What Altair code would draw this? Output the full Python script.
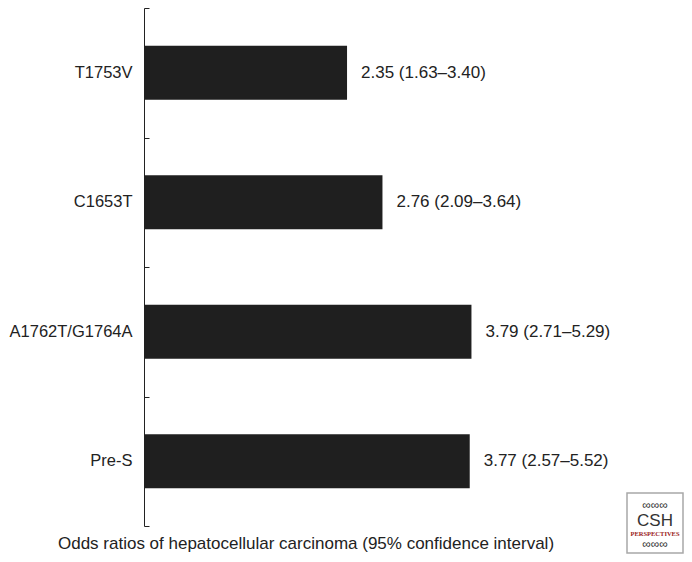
import altair as alt
import pandas as pd

categories = ["T1753V", "C1653T", "A1762T/G1764A", "Pre-S"]
odds = [2.35, 2.76, 3.79, 3.77]
ci_low = [1.63, 2.09, 2.71, 2.57]
ci_high = [3.40, 3.64, 5.29, 5.52]
x_title = "Odds ratios of hepatocellular carcinoma (95% confidence interval)"

df = pd.DataFrame({"cat": categories, "or": odds, "lo": ci_low, "hi": ci_high})
df["label"] = [f"{o:.2f} ({l:.2f}\u2013{h:.2f})" for o, l, h in zip(odds, ci_low, ci_high)]

W, H = 340, 518
FONT = "Liberation Sans"
INK = "#222222"

x_scale = alt.Scale(domain=[0, W / 86.4], nice=False, zero=True)
y_scale = alt.Scale(domain=categories, paddingInner=0, paddingOuter=0)

x_axis = alt.Axis(orient="bottom", labels=False, ticks=False, domain=False, grid=False,
                  title=x_title, titleFontSize=17, titleFont=FONT, titleFontWeight="normal",
                  titleColor=INK, titleX=161.5, titleY=22, titleAlign="center",
                  titleBaseline="alphabetic")

bars = alt.Chart(df).mark_bar(color="#1f1f1f", height=54).encode(
    x=alt.X("or:Q", scale=x_scale, axis=x_axis),
    y=alt.Y("cat:N", scale=y_scale, sort=categories,
            axis=alt.Axis(orient="left", title=None, ticks=False, domain=True, domainColor=INK,
                          domainWidth=1, grid=False, labelFontSize=16.5, labelFont=FONT,
                          labelColor=INK, labelPadding=12, labelLimit=300)),
)

text = alt.Chart(df).mark_text(align="left", baseline="middle", dx=14, fontSize=17,
                               font=FONT, color=INK).encode(
    x=alt.X("or:Q", scale=x_scale, axis=x_axis),
    y=alt.Y("cat:N", scale=y_scale, sort=categories,
            axis=alt.Axis(orient="right", offset=-W, title=None, labels=False, domain=False,
                          ticks=True, tickSize=5, tickColor=INK, tickWidth=1, grid=False,
                          tickBand="extent")),
    text="label:N",
)

one = pd.DataFrame({"k": [1]})
logo_box = alt.Chart(one).mark_rect(fill="white", stroke="#a8a8a8", strokeWidth=1.5).encode(
    x=alt.value(483), x2=alt.value(539), y=alt.value(485), y2=alt.value(545)
)
logo_csh = alt.Chart(one).mark_text(text="CSH", fontSize=17, font="Liberation Sans",
                                    color="#333333", align="center", baseline="middle").encode(
    x=alt.value(511), y=alt.value(513)
)
logo_persp = alt.Chart(one).mark_text(text="PERSPECTIVES", fontSize=6.5, font="Liberation Serif",
                                      fontWeight="bold", color="#9b1b1b", align="center",
                                      baseline="middle").encode(
    x=alt.value(511), y=alt.value(526)
)
logo_top = alt.Chart(one).mark_text(text="\u221e\u221e\u221e", fontSize=12, color="#333333",
                                    align="center", baseline="middle").encode(
    x=alt.value(511), y=alt.value(497)
)
logo_bot = alt.Chart(one).mark_text(text="\u221e\u221e\u221e", fontSize=12, color="#333333",
                                    align="center", baseline="middle").encode(
    x=alt.value(511), y=alt.value(536)
)

chart = alt.layer(bars, text, logo_box, logo_csh, logo_persp, logo_top, logo_bot).resolve_axis(
    y="independent"
).properties(
    width=W, height=H,
    autosize=alt.AutoSizeParams(type="none"),
    padding={"left": 136, "top": 0, "right": 200, "bottom": 28},
).configure_view(stroke=None)

chart.save("out.html", embed_options={"renderer": "svg", "actions": False})
